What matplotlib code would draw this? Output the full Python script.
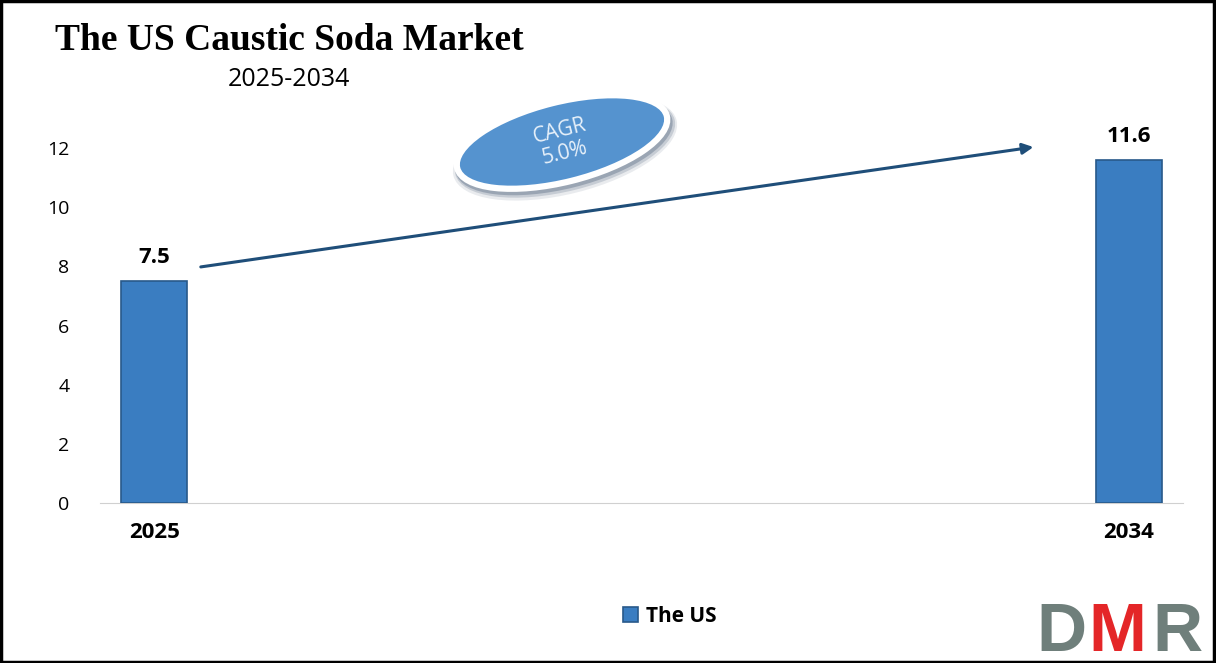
import matplotlib.pyplot as plt
from matplotlib.patches import Ellipse, Rectangle
from matplotlib.transforms import IdentityTransform

# datos
years = ["2025", "2034"]
values = [7.5, 11.6]
cagr = "5.0%"
serie = "The US"

W, H = 1216, 663
BAR_COLOR = "#3A7DC1"
EDGE_COLOR = "#28598A"
ARROW_COLOR = "#1F4E79"

fig = plt.figure(figsize=(W / 100, H / 100), dpi=100)
ax = fig.add_axes([100 / W, 1 - 503 / H, 1083 / W, 414 / H])

x = range(len(years))
ax.bar(x, values, width=0.068, color=BAR_COLOR, edgecolor=EDGE_COLOR, linewidth=1.2,
       label=serie, zorder=3)
for xi, v in zip(x, values):
    ax.text(xi, v + 0.45, f"{v}", ha="center", va="bottom", fontsize=16,
            fontweight="bold", family="Open Sans")

ax.set_xlim(-0.0556, 1.0556)
ax.set_ylim(0, 14)
ax.set_yticks(range(0, 13, 2))
ax.set_xticks(list(x))
ax.set_xticklabels(years, fontsize=16, fontweight="bold", family="Open Sans")
ax.tick_params(axis="y", length=0, pad=22, labelsize=14)
ax.tick_params(axis="x", length=0, pad=14)
for lbl in ax.get_yticklabels():
    lbl.set_family("Open Sans")
for s in ["top", "right", "left"]:
    ax.spines[s].set_visible(False)
ax.spines["bottom"].set_color("#D0D0D0")

# flecha CAGR
ax.annotate("", xy=(0.905, values[1] + 0.45), xytext=(0.045, values[0] + 0.47),
            arrowprops=dict(arrowstyle="-|>", color=ARROW_COLOR, lw=2.2,
                            mutation_scale=16), zorder=4)

# elipse CAGR (en pixeles)
ecx, ecy = 562, H - 142
ang = 14
for dx, dy, grow, a in [(3, -6, 10, 0.10), (3, -5, 6, 0.18), (2, -4, 3, 0.28)]:
    fig.patches.append(Ellipse((ecx + dx, ecy + dy), 220 + grow, 82 + grow, angle=ang,
                               transform=IdentityTransform(), facecolor="#2A4160",
                               edgecolor="none", alpha=a, zorder=5))
fig.patches.append(Ellipse((ecx, ecy), 216, 80, angle=ang, transform=IdentityTransform(),
                           facecolor="#5593CF", edgecolor="white", linewidth=4.5, zorder=6))
fig.text(ecx / W, ecy / H, f"CAGR\n{cagr}", ha="center", va="center", rotation=14,
         color="#E8F1FA", fontsize=15, family="Open Sans", linespacing=1.1, zorder=7)

# títulos
fig.text(55 / W, 1 - 40 / H, "The US Caustic Soda Market", ha="left", va="center",
         fontsize=27, fontweight="bold", family="Liberation Serif")
fig.text(289 / W, 1 - 80 / H, "2025-2034", ha="center", va="center",
         fontsize=18, family="Open Sans")

# leyenda
fig.legend(loc="center", bbox_to_anchor=(670 / W, 1 - 616 / H), frameon=False,
           prop={"family": "Open Sans", "weight": "bold", "size": 15},
           handlelength=0.7, handleheight=0.7, handletextpad=0.4)

# logo DMR
for txt, x0, col in [("D", 1036, "#6F7F7B"), ("M", 1088, "#E42628"), ("R", 1152, "#6F7F7B")]:
    fig.text(x0 / W, 1 - 651 / H, txt, ha="left", va="baseline", fontsize=50,
             fontweight="bold", family="Liberation Sans", color=col)

# marco
fig.patches.append(Rectangle((0.001, 0.002), 0.997, 0.996, transform=fig.transFigure,
                             fill=False, edgecolor="black", linewidth=2.5))

fig.savefig("out.png", dpi=100)
